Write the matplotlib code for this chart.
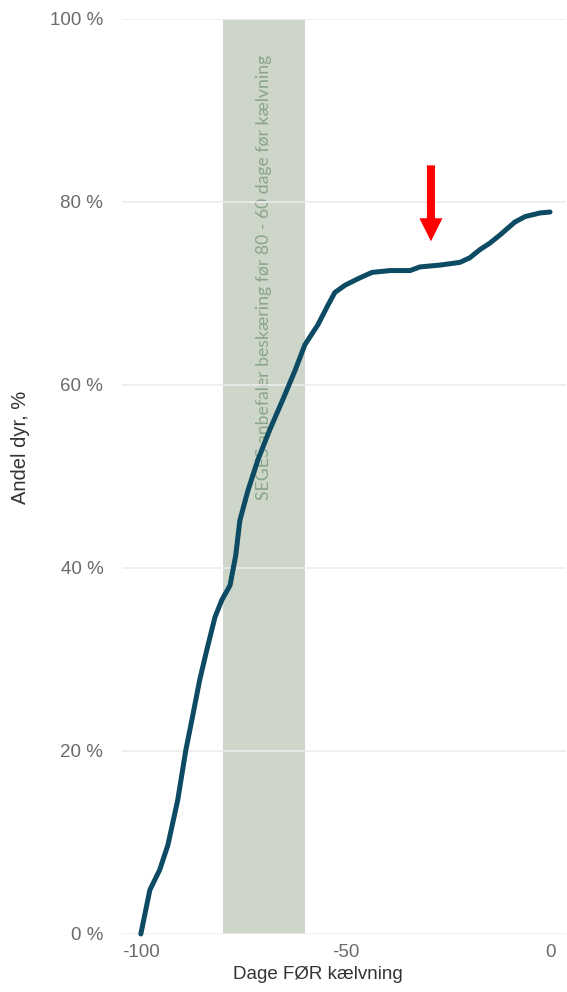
import matplotlib.pyplot as plt
import numpy as np

plt.rcParams['axes.unicode_minus'] = False

# data
days = [-100, -97.8, -95.4, -93.4, -91.0, -89.0, -87.3, -85.6, -83.9, -81.9,
        -80.2, -78.2, -76.8, -75.8, -73.8, -71.4, -68.5, -65.3, -62.3, -59.9,
        -56.7, -54.3, -52.6, -50.1, -46.5, -43.5, -39.1, -34.2, -31.8, -26.9,
        -22.0, -19.6, -17.1, -14.7, -12.2, -8.6, -6.1, -2.4, 0]
andel = [0, 4.8, 7.0, 9.7, 14.6, 20.1, 23.9, 27.8, 31.0, 34.6,
         36.5, 38.1, 41.4, 45.2, 48.5, 51.8, 55.1, 58.4, 61.6, 64.4,
         66.6, 68.7, 70.1, 70.9, 71.7, 72.3, 72.5, 72.5, 72.9, 73.1,
         73.4, 73.9, 74.8, 75.5, 76.4, 77.8, 78.4, 78.8, 78.9]
band = (-80, -60)
band_text = "SEGES anbefaler beskæring før 80 - 60 dage før kælvning"
arrow_x = -29.1
arrow_y = (84.0, 75.7)
yticks = [0, 20, 40, 60, 80, 100]
xticks = [-100, -50, 0]

fig = plt.figure(figsize=(5.67, 9.92), dpi=100)
ax = fig.add_axes([0.2152, 0.0585, 0.783, 0.9224])

ax.axvspan(*band, color='#cdd6c9', zorder=1, lw=0)
ax.text(np.mean(band), 71.8, band_text, rotation=90, ha='center', va='center',
        color='#8aa58a', fontsize=12.7, family=['Lato', 'DejaVu Sans'], zorder=2)

ax.plot(days, andel, color='#0d4a63', lw=3.6, solid_capstyle='round', zorder=4, clip_on=False)

ax.annotate('', xy=(arrow_x, arrow_y[1]), xytext=(arrow_x, arrow_y[0]),
            arrowprops=dict(facecolor='#ff0000', edgecolor='none', width=5.8,
                            headwidth=16.6, headlength=16.6, shrink=0), zorder=5)

ax.set_xlim(-104.6, 3.9)
ax.set_ylim(0, 100)
ax.set_yticks(yticks)
ax.set_yticklabels([f'{v} %' for v in yticks])
ax.set_xticks(xticks)
ax.grid(axis='y', color='#ececec', lw=1.2, zorder=3)
ax.set_axisbelow(False)
ax.tick_params(length=0, labelsize=13.5, labelcolor='#6b6b6b')
ax.tick_params(axis='y', pad=13.5)
ax.tick_params(axis='x', pad=7)
for s in ax.spines.values():
    s.set_visible(False)
for lab in ax.get_xticklabels() + ax.get_yticklabels():
    lab.set_family('Liberation Sans')

ax.set_xlabel('Dage FØR kælvning', fontsize=13.5, color='#333333', family='Liberation Sans', va='center')
ax.set_ylabel('Andel dyr, %', fontsize=14.5, color='#333333', family='Liberation Sans', va='center')
ax.xaxis.set_label_coords(0.441, -0.0448)
ax.yaxis.set_label_coords(-0.2297, 0.532)

fig.savefig('out.png', dpi=100)
